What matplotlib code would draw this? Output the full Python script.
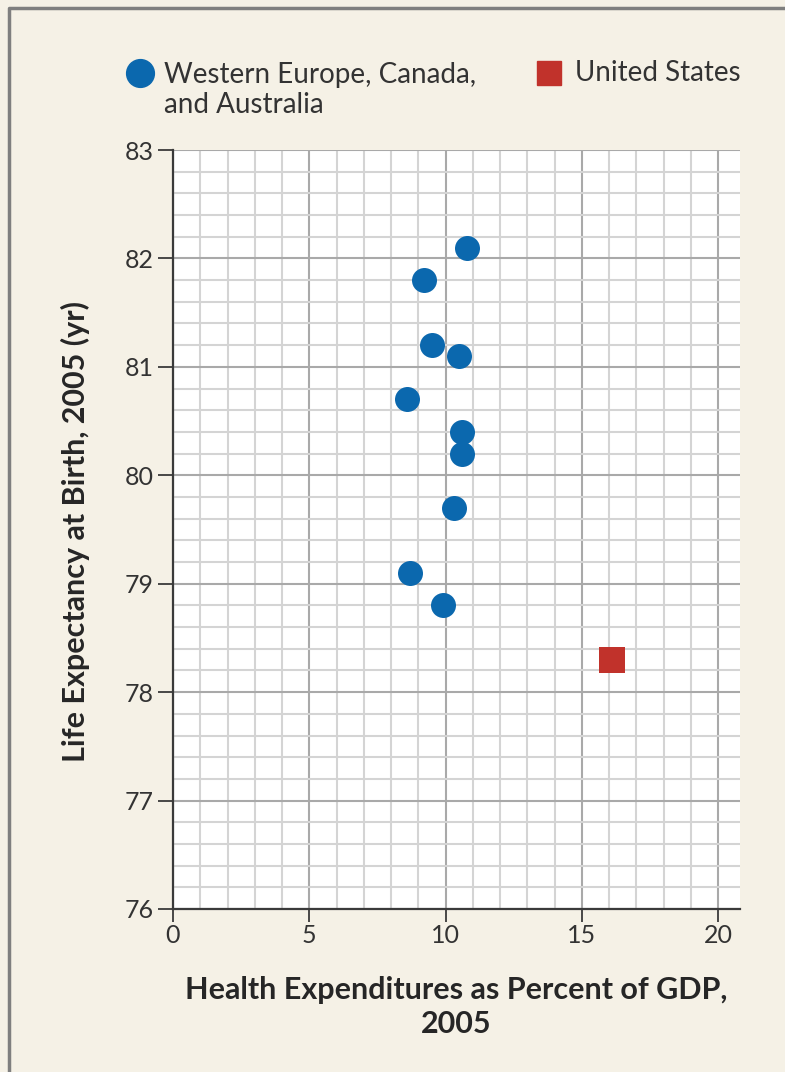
import matplotlib.pyplot as plt
from matplotlib.lines import Line2D
from matplotlib.ticker import MultipleLocator

# Terveysmenot (% BKT:sta) ja elinajanodote, 2005
europe_x = [10.8, 9.2, 9.5, 10.5, 8.6, 10.6, 10.6, 10.3, 8.7, 9.9]
europe_y = [82.1, 81.8, 81.2, 81.1, 80.7, 80.4, 80.2, 79.7, 79.1, 78.8]
us_x = [16.1]
us_y = [78.3]

plt.rcParams['font.family'] = ['Lato', 'DejaVu Sans']

bg = '#f5f1e6'
blue = '#0b68ae'
red = '#c1322b'

fig = plt.figure(figsize=(7.85, 10.72), dpi=100, facecolor=bg)
ax = fig.add_axes([173 / 785, 1 - 909 / 1072, (740 - 173) / 785, (909 - 150) / 1072])
ax.set_facecolor('white')

ax.set_xlim(0, 20.8)
ax.set_ylim(76, 83)
ax.xaxis.set_major_locator(MultipleLocator(5))
ax.xaxis.set_minor_locator(MultipleLocator(1))
ax.yaxis.set_major_locator(MultipleLocator(1))
ax.yaxis.set_minor_locator(MultipleLocator(0.2))
ax.grid(which='minor', color='#d4d4d4', lw=1.5)
ax.grid(which='major', color='#a9a9a9', lw=1.5)
ax.set_axisbelow(True)

for s in ['top', 'right']:
    ax.spines[s].set_visible(False)
for s in ['left', 'bottom']:
    ax.spines[s].set_color('#3a3a3a')
    ax.spines[s].set_linewidth(1.6)

ax.tick_params(axis='y', which='major', length=11, pad=3)
ax.tick_params(axis='x', which='major', length=9.5, pad=1)
ax.tick_params(which='major', width=1.3, color='#3a3a3a',
               labelsize=18, labelcolor='#333333')
ax.tick_params(which='minor', length=0)

ax.scatter(europe_x, europe_y, s=324, color=blue, marker='o', zorder=3, lw=0)
ax.scatter(us_x, us_y, s=350, color=red, marker='s', zorder=3, lw=0)

fig.text(75 / 785, 1 - 532 / 1072, 'Life Expectancy at Birth, 2005 (yr)', rotation=90,
         ha='center', va='center', fontsize=22, fontweight='bold', color='#262626')
fig.text(456 / 785, 1 - 1007 / 1072, 'Health Expenditures as Percent of GDP,\n2005',
         ha='center', va='center', fontsize=22, fontweight='bold', color='#262626',
         linespacing=1.24)

# selite
fig.add_artist(Line2D([140 / 785], [1 - 73 / 1072], marker='o', markersize=20,
                      color=blue, lw=0))
fig.text(164 / 785, 1 - 90 / 1072, 'Western Europe, Canada,\nand Australia',
         ha='left', va='center', fontsize=20, color='#333333', linespacing=1.22)
fig.add_artist(Line2D([549 / 785], [1 - 73 / 1072], marker='s', markersize=17,
                      color=red, lw=0))
fig.text(575 / 785, 1 - 73 / 1072, 'United States',
         ha='left', va='center', fontsize=20, color='#333333')

# harmaa reunus vasemmalla ja ylhäällä
fig.add_artist(Line2D([9 / 785, 9 / 785, 1], [0, 1 - 8 / 1072, 1 - 8 / 1072],
                      color='#7f7f7f', lw=2.5))

fig.savefig('out.png', dpi=100, facecolor=bg)
